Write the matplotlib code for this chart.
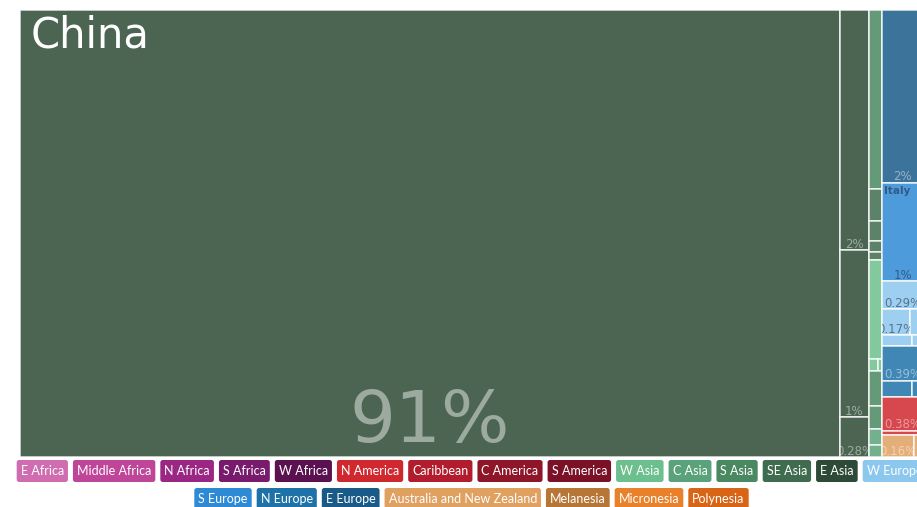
import matplotlib
matplotlib.use("Agg")
import matplotlib.pyplot as plt
from matplotlib.patches import Rectangle, FancyBboxPatch
from matplotlib.colors import to_rgba
import pandas as pd

W_PX, H_PX, DPI = 917, 507, 100

# legend regions and their colours
regions = ["E Africa", "Middle Africa", "N Africa", "S Africa", "W Africa",
           "N America", "Caribbean", "C America", "S America",
           "W Asia", "C Asia", "S Asia", "SE Asia", "E Asia",
           "W Europe", "S Europe", "N Europe", "E Europe",
           "Australia and New Zealand", "Melanesia", "Micronesia", "Polynesia"]
region_colors = ["#cf6db0", "#be4597", "#9b2785", "#781b6d", "#5b1150",
                 "#d0282f", "#b21d2e", "#8f1529", "#7b1126",
                 "#6cc08d", "#5aa27a", "#4a8862", "#3f6c4f", "#2c4a35",
                 "#8cc8ee", "#2f8ad6", "#1e72a8", "#1a5a88",
                 "#e0a060", "#b87636", "#e8812a", "#d86516"]
legend_row_break = 15

# treemap cells: column, row within the column, share of total (%)
cell_col = [0,
            1, 1, 1,
            2, 2, 2, 2, 2, 2, 2, 2, 2, 2, 2, 2,
            3, 3, 3, 3, 3, 3, 3, 3, 3, 3, 3, 3, 3, 3]
cell_row = [0,
            0, 1, 2,
            0, 1, 2, 3, 4, 5, 6, 6, 7, 8, 9, 10,
            0, 1, 2, 3, 3, 4, 4, 5, 6, 6, 7, 8, 9, 9]
cell_value = [90.82,
              1.70, 1.18, 0.28,
              0.600, 0.107, 0.067, 0.037, 0.027, 0.332, 0.028, 0.012, 0.117, 0.077, 0.054, 0.040,
              1.747, 0.995, 0.284, 0.180, 0.084, 0.075, 0.027, 0.355, 0.119, 0.044, 0.345, 0.041, 0.174, 0.049]
cell_region = ["E Asia",
               "E Asia", "E Asia", "E Asia",
               "S Asia", "SE Asia", "SE Asia", "SE Asia", "SE Asia", "W Asia", "W Asia", "W Asia",
               "S Asia", "S Asia", "C Asia", "C Asia",
               "E Europe", "S Europe", "W Europe", "W Europe", "W Europe", "W Europe", "W Europe",
               "N Europe", "N Europe", "N Europe", "N America", "N America",
               "Australia and New Zealand", "Australia and New Zealand"]
cell_name = ["China"] + [""] * 16 + ["Italy"] + [""] * 12
cell_pct = ["91%",
            "2%", "1%", "0.28%",
            "", "", "", "", "", "", "", "", "", "", "", "",
            "2%", "1%", "0.29%", "0.17%", "", "", "", "0.39%", "", "", "0.38%", "", "0.16%", ""]

dark_text_regions = {"S Europe", "W Europe"}

color_of = dict(zip(regions, region_colors))
df = pd.DataFrame({"col": cell_col, "row": cell_row, "value": cell_value,
                   "region": cell_region, "name": cell_name, "pct": cell_pct})

total = df["value"].sum()
col_tot = df.groupby("col")["value"].sum()
col_x0 = col_tot.cumsum() - col_tot
row_tot = df.groupby(["col", "row"])["value"].sum()

fig = plt.figure(figsize=(W_PX / DPI, H_PX / DPI), dpi=DPI)
tree_left, tree_top, tree_w, tree_h = 20, 10, 903, 447
ax = fig.add_axes([tree_left / W_PX, 1 - (tree_top + tree_h) / H_PX, tree_w / W_PX, tree_h / H_PX])
ax.set_xlim(0, total)
ax.set_ylim(1, 0)
ax.axis("off")
px_per_unit = tree_w / total

for c in col_tot.index:
    ctot = col_tot[c]
    y = 0.0
    for r in sorted(df.loc[df["col"] == c, "row"].unique()):
        rtot = row_tot[(c, r)]
        h = rtot / ctot
        x = col_x0[c]
        for _, cell in df[(df["col"] == c) & (df["row"] == r)].iterrows():
            w = cell["value"] / rtot * ctot
            rect = Rectangle((x, y), w, h, facecolor=to_rgba(color_of[cell["region"]], 0.85),
                             edgecolor=(1, 1, 1, 0.85), linewidth=1.1)
            ax.add_patch(rect)
            if cell["region"] in dark_text_regions:
                tcol = (0.1, 0.15, 0.25, 0.55)
            else:
                tcol = (1, 1, 1, 0.45)
            w_px = w * px_per_unit
            if cell["pct"]:
                size = min(52, max(8.5, w_px * 0.065))
                t = ax.annotate(cell["pct"], (x + w / 2, y + h), xytext=(0, size * 0.21),
                                textcoords="offset points", ha="center", va="baseline",
                                fontsize=size, color=tcol, family="DejaVu Sans")
                t.set_clip_path(rect)
            if cell["name"]:
                if w_px > 200:
                    t = ax.annotate(cell["name"], (x, y), xytext=(11, -4), textcoords="offset pixels",
                                    ha="left", va="top", fontsize=30, color="white",
                                    family="DejaVu Sans")
                else:
                    t = ax.annotate(cell["name"], (x, y), xytext=(2, -3), textcoords="offset pixels",
                                    ha="left", va="top", fontsize=7.5, color=tcol,
                                    family="DejaVu Sans", fontweight="bold")
                t.set_clip_path(rect)
            x += w
        y += h

# legend: rounded colour boxes, two centred rows
lax = fig.add_axes([0, 0, 1, 1])
lax.set_xlim(0, W_PX)
lax.set_ylim(H_PX, 0)
lax.axis("off")

renderer = fig.canvas.get_renderer()
pad, gap, box_h = 4, 5, 22
row_tops = [460, 488]
legend_center = tree_left + tree_w / 2
rows = [regions[:legend_row_break], regions[legend_row_break:]]
for top, names in zip(row_tops, rows):
    texts = [lax.text(0, top + box_h / 2, n, color="white", fontsize=9, family="Lato",
                      ha="center", va="center") for n in names]
    widths = [t.get_window_extent(renderer).width + 2 * pad for t in texts]
    x = legend_center - (sum(widths) + gap * (len(widths) - 1)) / 2
    for n, t, bw in zip(names, texts, widths):
        lax.add_patch(FancyBboxPatch((x, top), bw, box_h,
                                     boxstyle="round,pad=0,rounding_size=2.5",
                                     facecolor=color_of[n], edgecolor="none"))
        t.set_x(x + bw / 2)
        t.set_zorder(3)
        x += bw + gap

fig.savefig("out.png", dpi=DPI)
